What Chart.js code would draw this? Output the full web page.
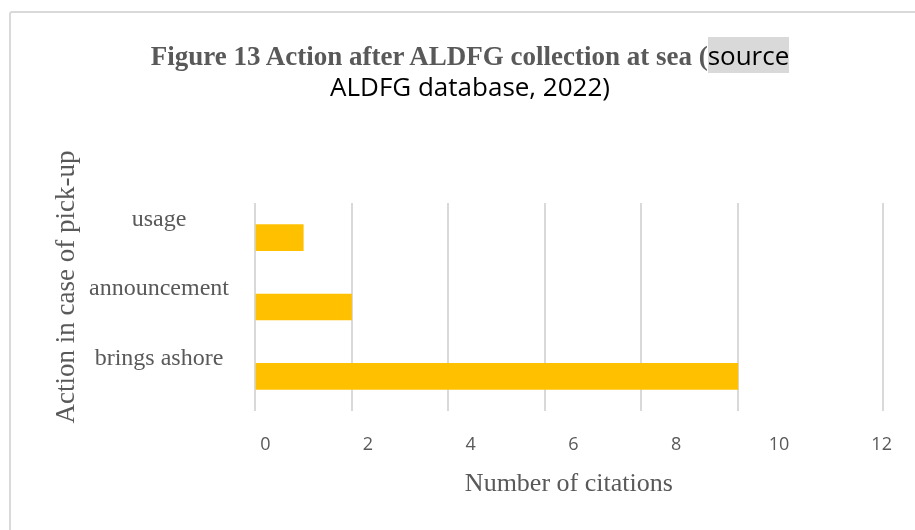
<!DOCTYPE html>
<html lang="en">
<head>
    <meta charset="UTF-8">
    <title>Figure 13 Action after ALDFG collection at sea</title>
    <style>
        html, body { margin: 0; padding: 0; background: #fff; }
        #wrap { position: relative; width: 915px; height: 530px; overflow: hidden; }
        #frame { position: absolute; left: 9px; top: 11px; width: 920px; height: 540px; border: 2px solid #d9d9d9; border-radius: 3px; box-sizing: border-box; }
        #title { position: absolute; left: 25px; top: 42px; width: 890px; text-align: center; line-height: 26px; }
        #title .serif { font-family: "Liberation Serif", "Times New Roman", serif; font-weight: bold; font-size: 27px; color: #595959; }
        #title .sans { font-family: "Open Sans", "Noto Sans", sans-serif; font-size: 26px; color: #000; }
        #title .hl { background: #d9d9d9; }
        #chart { position: absolute; left: 0; top: 0; }
    </style>
</head>
<body>
<div id="wrap">
    <div id="frame"></div>
    <canvas id="chart" width="915" height="530"></canvas>
    <div id="title"><span class="serif">Figure 13 Action after ALDFG collection at sea (</span><span class="sans hl">source</span><br><span class="sans">ALDFG database, 2022)</span></div>
</div>

<script src="https://cdn.jsdelivr.net/npm/chart.js"></script>
<script>
    // data
    const categories = ['usage', 'announcement', 'brings ashore'];
    const citations = [1, 2, 10];
    const tickLabels = [0, 2, 4, 6, 8, 10, 12];
    const gridValues = [0, 2, 4, 6, 8, 10, 13];
    const yTitle = 'Action in case of pick-up';

    const serif = '"Liberation Serif", "Times New Roman", serif';
    const sans = '"Open Sans", "Noto Sans", sans-serif';

    // y axis title, drawn a bit above the middle of the plot like the original
    const yTitlePlugin = {
        id: 'yTitle',
        afterDraw(chart) {
            const c = chart.ctx;
            const area = chart.chartArea;
            c.save();
            c.translate(67, (area.top + area.bottom) / 2 - 20);
            c.rotate(-Math.PI / 2);
            c.font = '27px ' + serif;
            c.fillStyle = '#595959';
            c.textAlign = 'center';
            c.textBaseline = 'middle';
            c.fillText(yTitle, 0, 0);
            c.restore();
        }
    };

    const ctx = document.getElementById('chart').getContext('2d');
    const myChart = new Chart(ctx, {
        type: 'bar',
        data: {
            labels: categories,
            datasets: [{
                label: 'Number of citations',
                data: citations,
                backgroundColor: '#ffc000',
                borderWidth: 0,
                barThickness: 26
            }]
        },
        options: {
            indexAxis: 'y',
            responsive: false,
            animation: false,
            layout: { padding: { top: 203, right: 27, bottom: 41, left: 47 } },
            plugins: {
                legend: { display: false },
                tooltip: { enabled: false }
            },
            scales: {
                y: {
                    grid: { display: false, drawTicks: false },
                    border: { display: false },
                    ticks: {
                        color: '#595959',
                        font: { family: serif, size: 24 },
                        crossAlign: 'center',
                        padding: 26,
                        labelOffset: -18
                    },
                    afterFit: function(s) { s.width = 208; }
                },
                x: {
                    min: 0,
                    max: 13,
                    grid: { color: '#d9d9d9', lineWidth: 2, drawTicks: false, tickLength: 0 },
                    border: { display: false },
                    ticks: { display: false },
                    afterBuildTicks: function(s) { s.ticks = gridValues.map(v => ({ value: v })); },
                    afterFit: function(s) { s.height = 0; }
                },
                x2: {
                    type: 'linear',
                    position: 'bottom',
                    min: -0.2,
                    max: 12.02,
                    grid: { display: false, drawTicks: false },
                    border: { display: false },
                    ticks: {
                        color: '#595959',
                        font: { family: sans, size: 18 },
                        padding: 23
                    },
                    afterBuildTicks: function(s) { s.ticks = tickLabels.map(v => ({ value: v })); },
                    title: {
                        display: true,
                        text: 'Number of citations',
                        color: '#595959',
                        font: { family: serif, size: 26, lineHeight: 0.4 },
                        padding: { top: 0, bottom: 0 }
                    }
                }
            }
        },
        plugins: [yTitlePlugin]
    });
</script>
</body>
</html>
